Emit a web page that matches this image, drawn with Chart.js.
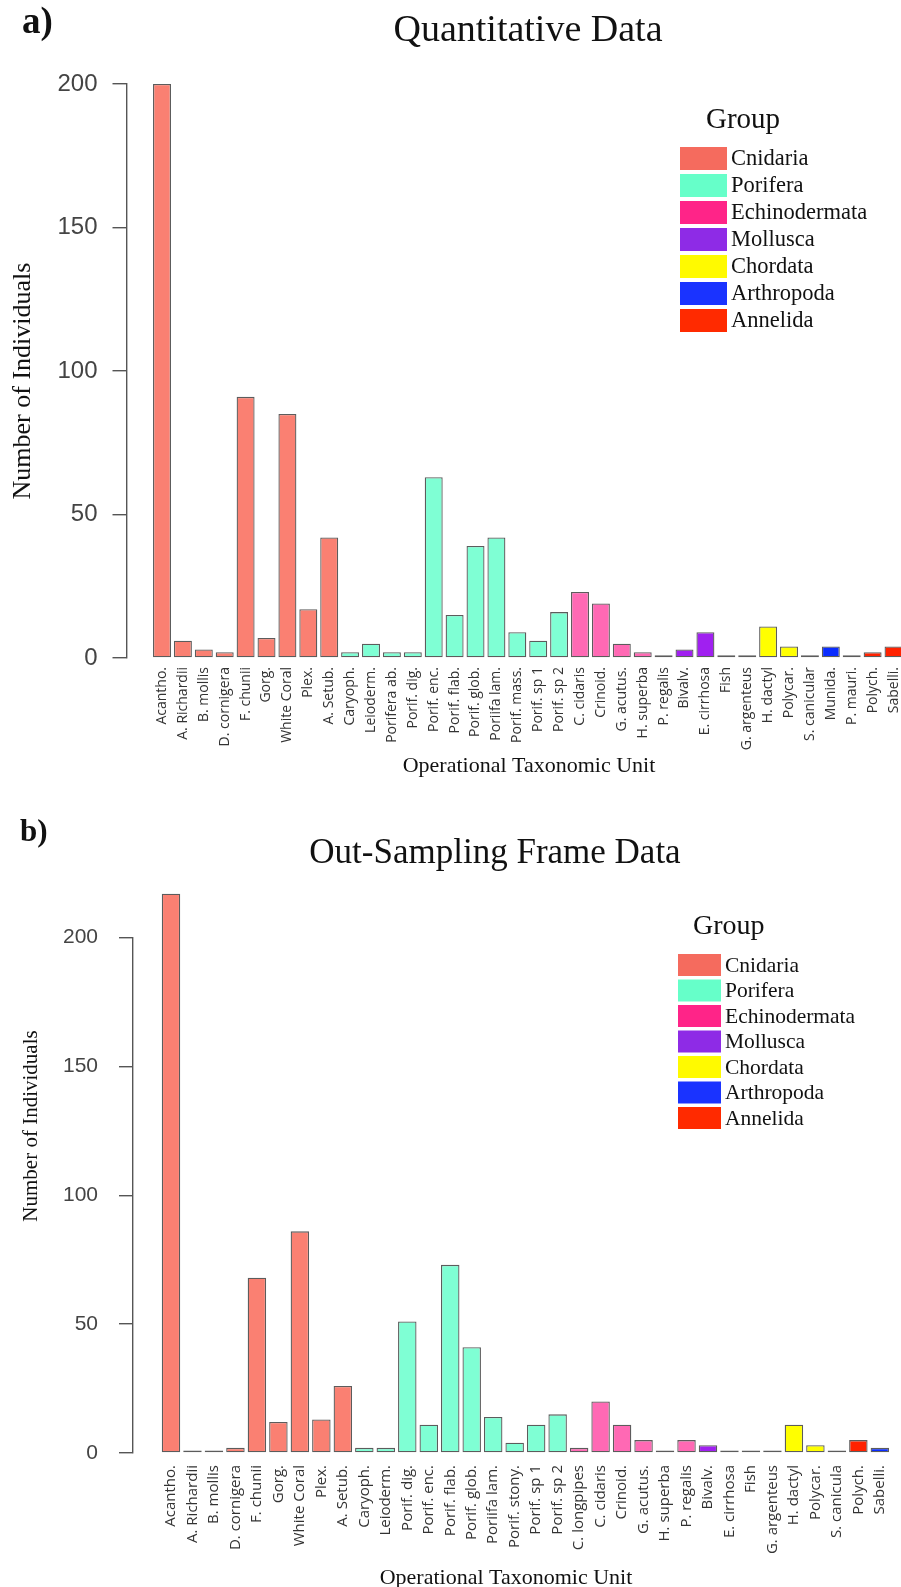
<!DOCTYPE html>
<html>
<head>
<meta charset="utf-8">
<script src="https://cdn.jsdelivr.net/npm/chart.js@4/dist/chart.umd.min.js"></script>
<style>
  html, body { margin: 0; padding: 0; background: #ffffff; overflow: hidden; }
  #wrap { position: relative; width: 901px; height: 1587px; }
  canvas { position: absolute; left: 0; display: block; }
  #quant { top: 0; }
  #outs { top: 790px; }
</style>
</head>
<body>
<div id="wrap">
  <canvas id="quant" width="901" height="790"></canvas>
  <canvas id="outs" width="901" height="797"></canvas>
</div>
<script>
// ---- data -------------------------------------------------------------
const groupNames = ['Cnidaria', 'Porifera', 'Echinodermata', 'Mollusca', 'Chordata', 'Arthropoda', 'Annelida'];
const yTicks = [0, 50, 100, 150, 200];

// a) Quantitative data
const quantLabels = [
  'Acantho.', 'A. Richardii', 'B. mollis', 'D. cornigera', 'F. chunii', 'Gorg.', 'White Coral', 'Plex.', 'A. Setub.',
  'Caryoph.', 'Leioderm.', 'Porifera ab.', 'Porif. dig.', 'Porif. enc.', 'Porif. flab.', 'Porif. glob.', 'Poriifa lam.',
  'Porif. mass.', 'Porif. sp 1', 'Porif. sp 2', 'C. cidaris', 'Crinoid.', 'G. acutus.', 'H. superba', 'P. regalis',
  'Bivalv.', 'E. cirrhosa', 'Fish', 'G. argenteus', 'H. dactyl', 'Polycar.', 'S. canicular', 'Munida.', 'P. mauri.',
  'Polych.', 'Sabelli.'
];
const quantCounts = [
  200, 6, 3, 2, 91, 7, 85, 17, 42,
  2, 5, 2, 2, 63, 15, 39, 42,
  9, 6, 16, 23, 19, 5, 2, 1,
  3, 9, 1, 1, 11, 4, 1, 4, 1,
  2, 4
];
const quantGroups = [
  'Cnidaria', 'Cnidaria', 'Cnidaria', 'Cnidaria', 'Cnidaria', 'Cnidaria', 'Cnidaria', 'Cnidaria', 'Cnidaria',
  'Porifera', 'Porifera', 'Porifera', 'Porifera', 'Porifera', 'Porifera', 'Porifera', 'Porifera',
  'Porifera', 'Porifera', 'Porifera', 'Echinodermata', 'Echinodermata', 'Echinodermata', 'Echinodermata', 'Echinodermata',
  'Mollusca', 'Mollusca', 'Chordata', 'Chordata', 'Chordata', 'Chordata', 'Chordata', 'Arthropoda', 'Arthropoda',
  'Annelida', 'Annelida'
];

// b) Out-sampling frame data
const outLabels = [
  'Acantho.', 'A. Richardii', 'B. mollis', 'D. cornigera', 'F. chunii', 'Gorg.', 'White Coral', 'Plex.', 'A. Setub.',
  'Caryoph.', 'Leioderm.', 'Porif. dig.', 'Porif. enc.', 'Porif. flab.', 'Porif. glob.', 'Poriifa lam.', 'Porif. stony.',
  'Porif. sp 1', 'Porif. sp 2', 'C. longpipes', 'C. cidaris', 'Crinoid.', 'G. acutus.', 'H. superba', 'P. regalis',
  'Bivalv.', 'E. cirrhosa', 'Fish', 'G. argenteus', 'H. dactyl', 'Polycar.', 'S. canicula', 'Polych.', 'Sabelli.'
];
const outCounts = [
  217, 1, 1, 2, 68, 12, 86, 13, 26,
  2, 2, 51, 11, 73, 41, 14, 4,
  11, 15, 2, 20, 11, 5, 1, 5,
  3, 1, 1, 1, 11, 3, 1, 5, 2
];
const outGroups = [
  'Cnidaria', 'Cnidaria', 'Cnidaria', 'Cnidaria', 'Cnidaria', 'Cnidaria', 'Cnidaria', 'Cnidaria', 'Cnidaria',
  'Porifera', 'Porifera', 'Porifera', 'Porifera', 'Porifera', 'Porifera', 'Porifera', 'Porifera',
  'Porifera', 'Porifera', 'Echinodermata', 'Echinodermata', 'Echinodermata', 'Echinodermata', 'Echinodermata', 'Echinodermata',
  'Mollusca', 'Mollusca', 'Chordata', 'Chordata', 'Chordata', 'Chordata', 'Chordata', 'Annelida', 'Arthropoda'
];

// ---- styles -----------------------------------------------------------
const barFill = {
  Cnidaria: '#FA8072', Porifera: '#7FFFD4', Echinodermata: '#FF69B4', Mollusca: '#A020F0',
  Chordata: '#FFFF00', Arthropoda: '#0a2cff', Annelida: '#FF2200'
};
const keyFill = {
  Cnidaria: '#F56B5E', Porifera: '#66FFC9', Echinodermata: '#FF2488', Mollusca: '#8E2BE6',
  Chordata: '#FFFA00', Arthropoda: '#1A33FF', Annelida: '#FF2A00'
};
const SERIF = '"Liberation Serif", "Times New Roman", serif';
const SANS = '"Liberation Sans", Arial, sans-serif';
const LABEL_SANS = '"Open Sans", "Noto Sans", sans-serif';

// Draws the panel letter, title, axis titles and the group key.
const panelText = {
  id: 'panelText',
  afterDraw(chart, args, o) {
    const ctx = chart.ctx;
    ctx.save();
    ctx.fillStyle = '#111111';
    ctx.textBaseline = 'alphabetic';

    ctx.font = 'bold ' + o.tag.size + 'px ' + SERIF;
    ctx.textAlign = 'left';
    ctx.fillText(o.tag.text, o.tag.x, o.tag.y);

    ctx.font = o.title.size + 'px ' + SERIF;
    ctx.textAlign = 'center';
    ctx.fillText(o.title.text, o.title.x, o.title.y);

    ctx.font = o.xTitle.size + 'px ' + SERIF;
    ctx.fillText(o.xTitle.text, o.xTitle.x, o.xTitle.y);

    ctx.save();
    ctx.translate(o.yTitle.x, o.yTitle.y);
    ctx.rotate(-Math.PI / 2);
    ctx.font = o.yTitle.size + 'px ' + SERIF;
    ctx.textBaseline = 'middle';
    ctx.fillText(o.yTitle.text, 0, 0);
    ctx.restore();

    const k = o.key;
    ctx.textAlign = 'left';
    ctx.font = k.headSize + 'px ' + SERIF;
    ctx.fillText('Group', k.headX, k.headY);
    ctx.font = k.size + 'px ' + SERIF;
    ctx.textBaseline = 'middle';
    groupNames.forEach((g, i) => {
      const cy = k.y0 + i * k.step;
      ctx.fillStyle = keyFill[g];
      ctx.fillRect(k.x, cy - k.h / 2, k.w, k.h);
      ctx.fillStyle = '#111111';
      ctx.fillText(g, k.textX, cy + 1);
    });
    ctx.restore();
  }
};

function makeChart(id, labels, counts, groups, geom, text) {
  const ctx = document.getElementById(id);
  return new Chart(ctx, {
    type: 'bar',
    data: {
      datasets: [{
        data: counts.map((v, i) => ({ x: i, y: v })),
        backgroundColor: groups.map(g => barFill[g]),
        borderColor: '#5c5c5c',
        borderWidth: 1.3,
        borderSkipped: false,
        barPercentage: 0.86,
        categoryPercentage: 1.0,
        clip: false
      }]
    },
    options: {
      responsive: false,
      maintainAspectRatio: false,
      animation: false,
      events: [],
      layout: { padding: { top: geom.top, left: 0, right: 0, bottom: 0 } },
      plugins: {
        legend: { display: false },
        title: { display: false },
        tooltip: { enabled: false },
        panelText: text
      },
      scales: {
        x: {
          type: 'linear',
          offset: false,
          min: geom.xMin,
          max: geom.xMax,
          grid: { display: false, drawTicks: false, offset: false },
          border: { display: false },
          afterBuildTicks: (scale) => { scale.ticks = labels.map((_, i) => ({ value: i })); },
          afterFit: (scale) => {
            scale.height = geom.xHeight;
            scale.paddingLeft = 0;
            scale.paddingRight = 0;
          },
          ticks: {
            autoSkip: false,
            minRotation: 90,
            maxRotation: 90,
            padding: geom.xPad,
            color: '#333333',
            font: { family: LABEL_SANS, size: geom.xFont },
            callback: (v) => labels[v]
          }
        },
        y: {
          min: 0,
          max: 200,
          afterBuildTicks: (scale) => { scale.ticks = yTicks.map(v => ({ value: v })); },
          afterFit: (scale) => {
            scale.width = geom.yWidth;
            scale.paddingTop = 0;
            scale.paddingBottom = 0;
          },
          grid: {
            display: true,
            drawOnChartArea: false,
            drawTicks: true,
            tickLength: 14,
            color: '#555555',
            lineWidth: 1.4
          },
          border: { display: true, color: '#555555', width: 1.4 },
          ticks: {
            padding: geom.yPad,
            color: '#444444',
            font: { family: SANS, size: geom.yFont }
          }
        }
      }
    },
    plugins: [panelText]
  });
}

makeChart('quant', quantLabels, quantCounts, quantGroups,
  { top: 84, xMin: -1.699, xMax: 35.358, xHeight: 132, xPad: 9, xFont: 14, yWidth: 126.5, yPad: 15, yFont: 24 },
  {
    tag: { text: 'a)', x: 22, y: 33, size: 37 },
    title: { text: 'Quantitative Data', x: 528, y: 41, size: 38 },
    xTitle: { text: 'Operational Taxonomic Unit', x: 529, y: 772, size: 22 },
    yTitle: { text: 'Number of Individuals', x: 23, y: 381, size: 26 },
    key: { headX: 706, headY: 128, headSize: 29, x: 680, w: 47, h: 23, y0: 158.5, step: 27, textX: 731, size: 22.5 }
  });

makeChart('outs', outLabels, outCounts, outGroups,
  { top: 147.5, xMin: -1.769, xMax: 33.985, xHeight: 134, xPad: 12, xFont: 15, yWidth: 133, yPad: 21, yFont: 21 },
  {
    tag: { text: 'b)', x: 20, y: 51, size: 31 },
    title: { text: 'Out-Sampling Frame Data', x: 495, y: 73, size: 35 },
    xTitle: { text: 'Operational Taxonomic Unit', x: 506, y: 794, size: 22 },
    yTitle: { text: 'Number of Individuals', x: 31, y: 336, size: 21 },
    key: { headX: 693, headY: 144, headSize: 28, x: 678, w: 43, h: 22, y0: 175, step: 25.5, textX: 725, size: 21.5 }
  });
</script>
</body>
</html>
